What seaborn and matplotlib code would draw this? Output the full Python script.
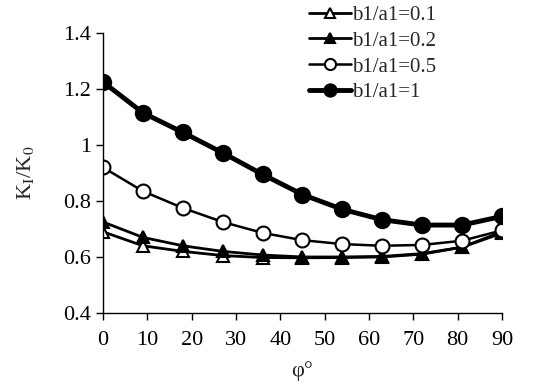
import numpy as np
import pandas as pd
import seaborn as sns
import matplotlib
matplotlib.use('Agg')
from matplotlib import pyplot as plt

phi = [0, 9, 18, 27, 36, 45, 54, 63, 72, 81, 90]
k_01 = [0.69, 0.64, 0.62, 0.605, 0.598, 0.597, 0.598, 0.60, 0.61, 0.635, 0.69]
k_02 = [0.725, 0.67, 0.64, 0.62, 0.607, 0.60, 0.60, 0.602, 0.612, 0.635, 0.685]
k_05 = [0.92, 0.835, 0.775, 0.725, 0.686, 0.66, 0.646, 0.64, 0.643, 0.658, 0.695]
k_1 = [1.225, 1.115, 1.045, 0.972, 0.895, 0.823, 0.77, 0.733, 0.714, 0.714, 0.745]
labels = ['b1/a1=0.1', 'b1/a1=0.2', 'b1/a1=0.5', 'b1/a1=1']

sns.set_style('ticks')
plt.rcParams['font.family'] = ['Liberation Serif', 'DejaVu Serif']
plt.rcParams['mathtext.fontset'] = 'stix'

fig, ax = plt.subplots(figsize=(5.51, 3.84), dpi=100)
fig.subplots_adjust(left=0.187, right=0.911, bottom=0.185, top=0.914)

styles = [
    dict(marker='^', mfc='white', lw=2.0, ms=9),
    dict(marker='^', mfc='black', lw=2.0, ms=9),
    dict(marker='o', mfc='white', lw=1.8, ms=10),
    dict(marker='o', mfc='black', lw=3.5, ms=11),
]
for vals, lab, st in zip([k_01, k_02, k_05, k_1], labels, styles):
    df = pd.DataFrame({'phi': phi, 'k': vals})
    sns.lineplot(data=df, x='phi', y='k', ax=ax, color='black', label=lab,
                 lw=st['lw'], marker=st['marker'], markersize=st['ms'],
                 markerfacecolor=st['mfc'], markeredgecolor='black',
                 markeredgewidth=1.5)

ax.set_xlim(0, 90)
ax.set_ylim(0.4, 1.4)
ax.set_xticks(np.arange(0, 91, 10))
ax.set_yticks([0.4, 0.6, 0.8, 1.0, 1.2, 1.4])
ax.set_yticklabels(['0.4', '0.6', '0.8', '1', '1.2', '1.4'])
ax.tick_params(labelsize=16, direction='out', length=5, width=1, colors='black')
ax.tick_params(axis='x', pad=8)
for s in ['left', 'bottom']:
    ax.spines[s].set_color('black')
    ax.spines[s].set_linewidth(1)
sns.despine(ax=ax)
ax.set_xlabel('φ°', fontsize=16, labelpad=8)
ax.set_ylabel(r'K$_\mathrm{I}$/K$_0$', fontsize=16, labelpad=20)

handles, labs = ax.get_legend_handles_labels()
ax.get_legend().remove()
fig.legend(handles, labs, loc='upper left', bbox_to_anchor=(0.527, 1.035),
           frameon=False, fontsize=15, handlelength=2.0, handletextpad=0.05,
           labelspacing=0.3, markerscale=0.8)

fig.savefig('out.png', dpi=100)
